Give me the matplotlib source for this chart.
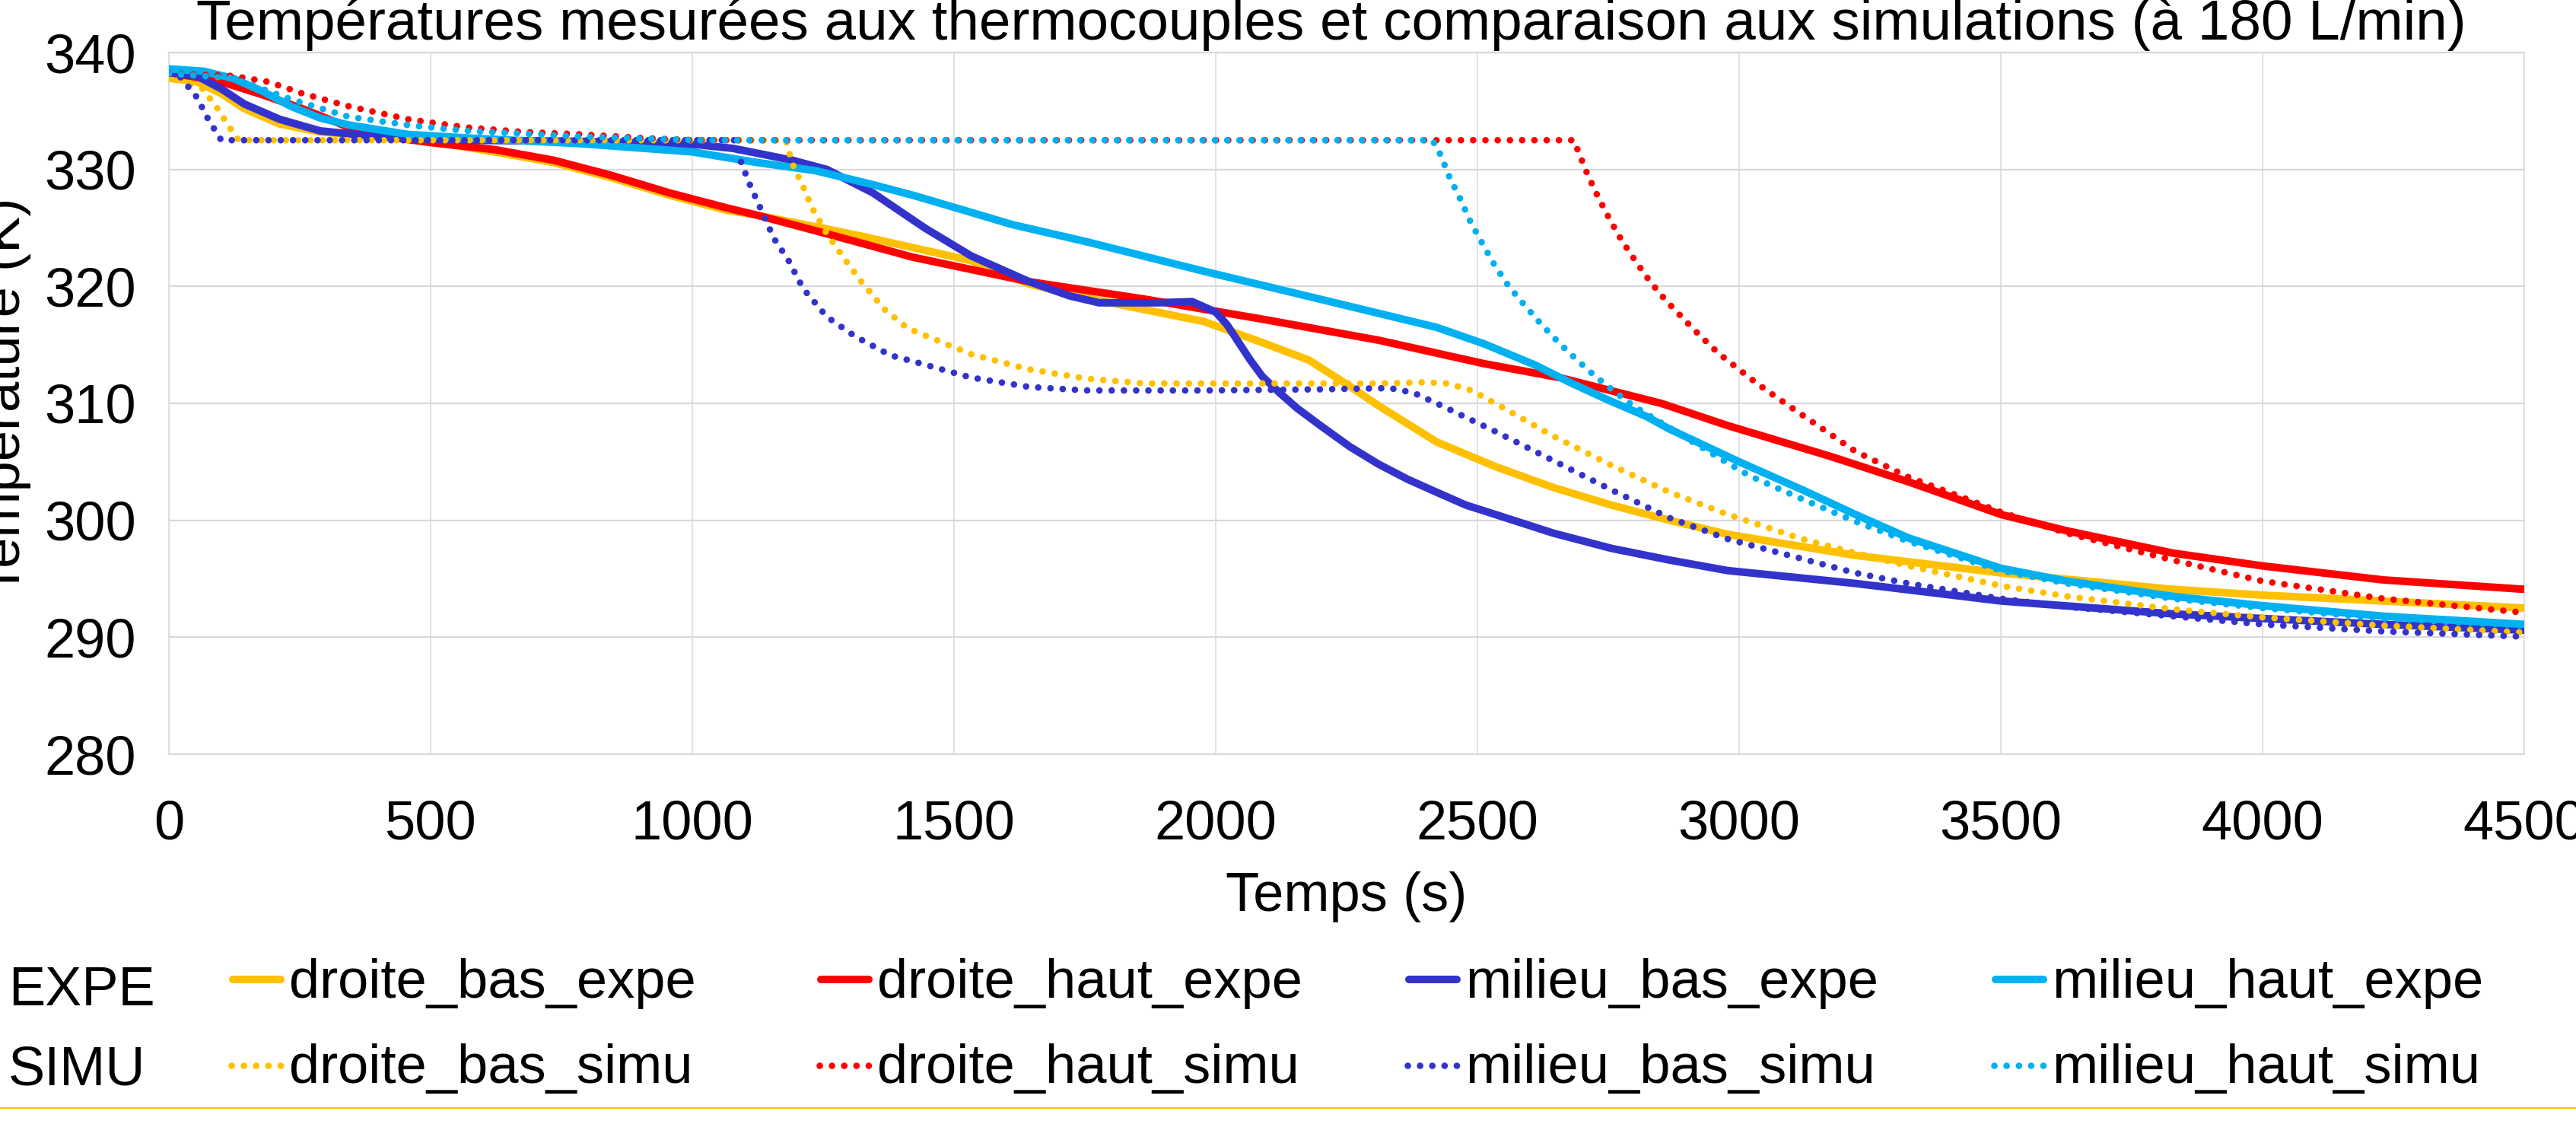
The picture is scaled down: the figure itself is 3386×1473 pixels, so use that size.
import matplotlib
matplotlib.use("Agg")
import matplotlib.pyplot as plt
from matplotlib.lines import Line2D

# ---- data (time in s, temperature in K) ----
t_db_expe = [0, 53, 100, 144, 211, 289, 400, 500, 622, 734, 845, 956, 1067, 1123,
             1258, 1323, 1413, 1533, 1644, 1755, 1866, 1977, 2089, 2178, 2255, 2311,
             2422, 2534, 2645, 2756, 2867, 2978, 3222, 3500, 3828, 4000, 4231, 4500]
T_db_expe = [337.8, 337.5, 336.5, 335.2, 333.9, 333.2, 332.8, 332.4, 331.5, 330.6, 329.3,
             327.8, 326.5, 326.1, 324.9, 324.3, 323.4, 322.2, 320.2, 319.0, 318.0, 317.0,
             315.2, 313.7, 311.5, 309.8, 306.7, 304.6, 302.8, 301.3, 300.0, 298.8, 297.0,
             295.5, 294.1, 293.6, 293.1, 292.5]

t_dh_expe = [0, 100, 178, 255, 344, 434, 500, 622, 734, 845, 956, 1067, 1123, 1257,
             1421, 1644, 1866, 2089, 2311, 2512, 2657, 2754, 2851, 2978, 3172, 3323,
             3500, 3626, 3828, 4000, 4231, 4500]
T_dh_expe = [338.3, 337.5, 336.4, 335.2, 333.6, 332.7, 332.3, 331.7, 330.8, 329.5, 328.0,
             326.7, 326.1, 324.5, 322.5, 320.4, 318.9, 317.2, 315.4, 313.4, 312.2, 311.1,
             310.0, 308.1, 305.5, 303.3, 300.5, 299.1, 297.2, 296.1, 294.9, 294.1]

t_mb_expe = [0, 53, 100, 144, 211, 289, 400, 567, 789, 1013, 1078, 1190, 1257, 1345,
             1444, 1533, 1644, 1720, 1777, 1888, 1955, 2000, 2022, 2044, 2066, 2089,
             2122, 2155, 2200, 2256, 2311, 2367, 2422, 2478, 2534, 2645, 2756, 2867,
             2978, 3222, 3500, 3828, 4000, 4231, 4500]
T_mb_expe = [338.3, 338.0, 336.9, 335.6, 334.3, 333.3, 332.8, 332.5, 332.4, 332.1, 331.8,
             330.8, 330.0, 328.0, 325.0, 322.6, 320.4, 319.2, 318.6, 318.6, 318.7, 317.8,
             316.7, 315.2, 313.7, 312.3, 310.9, 309.6, 308.1, 306.3, 304.8, 303.5, 302.4,
             301.3, 300.5, 298.9, 297.6, 296.6, 295.7, 294.6, 293.1, 292.0, 291.6, 291.1,
             290.6]

t_mh_expe = [0, 66, 122, 178, 233, 289, 344, 456, 567, 789, 1000, 1123, 1235, 1345,
             1421, 1520, 1610, 1755, 1977, 2200, 2422, 2512, 2609, 2681, 2754, 2822, 2867,
             3000, 3121, 3222, 3323, 3500, 3626, 3828, 4000, 4231, 4500]
T_mh_expe = [338.6, 338.4, 337.8, 336.7, 335.4, 334.4, 333.8, 333.0, 332.7, 332.2, 331.5,
             330.6, 329.9, 328.7, 327.8, 326.5, 325.3, 323.8, 321.3, 318.9, 316.5, 315.1,
             313.3, 311.7, 310.2, 308.9, 307.8, 305.0, 302.6, 300.5, 298.5, 295.9, 294.8,
             293.5, 292.7, 291.8, 291.1]

t_db_simu = [0, 64, 93, 119, 133, 1179, 1190, 1210, 1229, 1257, 1290, 1323, 1368, 1412,
             1533, 1644, 1755, 1866, 2089, 2311, 2400, 2444, 2489, 2534, 2645, 2756,
             2867, 2978, 3121, 3222, 3323, 3500, 3626, 3828, 4000, 4231, 4500]
T_db_simu = [338.2, 336.9, 335.2, 333.4, 332.5, 332.5, 330.6, 328.7, 326.7, 324.5, 322.4,
             320.4, 318.0, 316.4, 314.2, 312.9, 312.1, 311.7, 311.7, 311.7, 311.8, 311.7,
             311.1, 310.0, 307.2, 304.7, 302.4, 300.5, 298.4, 297.2, 296.1, 294.4, 293.5,
             292.4, 291.7, 291.0, 290.4]

t_dh_simu = [0, 122, 189, 255, 344, 456, 567, 678, 789, 900, 1000, 2684, 2693, 2711,
             2731, 2753, 2776, 2803, 2830, 2860, 2892, 2925, 2960, 2997, 3034, 3072,
             3111, 3222, 3323, 3424, 3500, 3626, 3828, 4000, 4231, 4500]
T_dh_simu = [338.2, 338.0, 337.5, 336.5, 335.4, 334.3, 333.6, 333.2, 333.0, 332.7, 332.5,
             332.5, 331.5, 329.5, 327.6, 325.7, 323.9, 322.1, 320.4, 318.8, 317.3, 315.8,
             314.3, 313.0, 311.7, 310.5, 309.3, 305.9, 303.7, 302.0, 300.7, 298.9, 296.6,
             294.8, 293.3, 292.1]

t_mb_simu = [0, 22, 53, 75, 100, 1084, 1090, 1108, 1128, 1156, 1184, 1212, 1257, 1312,
             1379, 1421, 1533, 1644, 1755, 1977, 2200, 2333, 2378, 2422, 2534, 2645,
             2756, 2867, 2978, 3121, 3222, 3323, 3500, 3626, 3828, 4000, 4231, 4500]
T_mb_simu = [338.2, 337.9, 336.2, 334.3, 332.5, 332.5, 331.0, 328.9, 326.9, 324.1, 322.2,
             319.8, 317.4, 315.7, 314.1, 313.6, 312.2, 311.4, 311.1, 311.1, 311.2, 311.3,
             310.9, 310.0, 307.6, 305.1, 302.6, 300.2, 298.4, 296.7, 295.5, 294.6, 293.3,
             292.6, 291.8, 291.1, 290.5, 290.05]

t_mh_simu = [0, 122, 233, 344, 456, 567, 789, 1013, 2414, 2429, 2447, 2468, 2488, 2509,
             2533, 2560, 2590, 2621, 2653, 2688, 2723, 2759, 2797, 2867, 2978, 3020,
             3121, 3222, 3323, 3500, 3626, 3828, 4000, 4231, 4500]
T_mh_simu = [338.2, 337.8, 336.0, 334.5, 333.8, 333.3, 332.8, 332.5, 332.5, 331.3, 329.3,
             327.4, 325.4, 323.7, 321.8, 320.0, 318.4, 316.8, 315.3, 313.8, 312.4, 311.1,
             309.8, 307.9, 304.9, 303.8, 301.8, 299.9, 298.2, 295.7, 294.6, 293.3, 292.5,
             291.6, 291.0]

x_ticks = [0, 500, 1000, 1500, 2000, 2500, 3000, 3500, 4000, 4500]
y_ticks = [280, 290, 300, 310, 320, 330, 340]

title = "Températures mesurées aux thermocouples et comparaison aux simulations (à 180 L/min)"

# ---- styling ----
W, H = 3387, 1473
plt.rcParams["font.family"] = ["Liberation Sans", "DejaVu Sans"]

GOLD = "#FFC000"
RED = "#FF0000"
BLUE = "#3333CC"
CYAN = "#00B0F0"
GRID = "#D9D9D9"

SOLID_LW = 7.2
DOT_LW = 6.2
DOTS = (0, (0.01, 1.86))

series = [
    ("droite_bas_expe", t_db_expe, T_db_expe, GOLD, "solid"),
    ("droite_haut_expe", t_dh_expe, T_dh_expe, RED, "solid"),
    ("milieu_bas_expe", t_mb_expe, T_mb_expe, BLUE, "solid"),
    ("milieu_haut_expe", t_mh_expe, T_mh_expe, CYAN, "solid"),
    ("droite_bas_simu", t_db_simu, T_db_simu, GOLD, "dot"),
    ("droite_haut_simu", t_dh_simu, T_dh_simu, RED, "dot"),
    ("milieu_bas_simu", t_mb_simu, T_mb_simu, BLUE, "dot"),
    ("milieu_haut_simu", t_mh_simu, T_mh_simu, CYAN, "dot"),
]


def px(x, y):
    # pixel position in the full image -> figure fraction
    return x / W, 1 - y / H


fig = plt.figure(figsize=(W / 100, H / 100), dpi=100)
ax = fig.add_axes([222 / W, 1 - 991 / H, 3096 / W, 922 / H])

for name, t, T, color, kind in series:
    if kind == "solid":
        ax.plot(t, T, color=color, lw=SOLID_LW, solid_joinstyle="round",
                solid_capstyle="round", label=name, zorder=3)
    else:
        ax.plot(t, T, color=color, lw=DOT_LW, linestyle=DOTS,
                dash_capstyle="round", label=name, zorder=4)

ax.set_xlim(0, 4500)
ax.set_ylim(280, 340)
ax.set_xticks(x_ticks)
ax.set_yticks(y_ticks)
ax.tick_params(axis="both", length=0, labelsize=52)
ax.tick_params(axis="y", pad=31)
ax.tick_params(axis="x", pad=43)
ax.grid(axis="y", color=GRID, lw=1.6, zorder=0)
ax.grid(axis="x", color=GRID, lw=1.1, zorder=0)
ax.set_axisbelow(True)
for side, sp in ax.spines.items():
    sp.set_color(GRID)
    sp.set_linewidth(1.6 if side in ("top", "bottom") else 1.1)

# titles / axis labels
fig.text(*px(1750, 52), title, ha="center", va="baseline", fontsize=53.8)
fig.text(*px(1770, 1145), "Temps (s)", ha="center", va="top", fontsize=52)
fig.text(*px(26, 521), "Température (K)", rotation=90, rotation_mode="anchor",
         ha="center", va="baseline", fontsize=52)

# legend laid out as in the original: one row per kind, four columns
col_x = [301, 1074, 1847, 2618]
rows = {"solid": (1287, 1311), "dot": (1400, 1423)}
fig.text(*px(11, 1321), "EXPE", ha="left", va="baseline", fontsize=52)
fig.text(*px(11, 1426), "SIMU", ha="left", va="baseline", fontsize=52)
expe = [s for s in series if s[4] == "solid"]
simu = [s for s in series if s[4] == "dot"]
for group in (expe, simu):
    for x0, (name, _, _, color, kind) in zip(col_x, group):
        y_line, y_text = rows[kind]
        if kind == "solid":
            (xa, ya), (xb, _) = px(x0 + 5, y_line), px(x0 + 68, y_line)
            h = Line2D([xa, xb], [ya, ya], transform=fig.transFigure, color=color,
                       lw=SOLID_LW, solid_capstyle="round")
        else:
            (xa, ya), (xb, _) = px(x0 + 3, y_line), px(x0 + 70, y_line)
            h = Line2D([xa, xb], [ya, ya], transform=fig.transFigure, color=color,
                       lw=DOT_LW, linestyle=DOTS, dash_capstyle="round")
        fig.add_artist(h)
        fig.text(*px(x0 + 79, y_text), name, ha="left", va="baseline", fontsize=52)

# thin gold rule along the bottom edge
fig.add_artist(Line2D([0, 1], [1 - 1456 / H] * 2, transform=fig.transFigure,
                      color=GOLD, lw=1.6))

fig.savefig("out.png", dpi=100)
